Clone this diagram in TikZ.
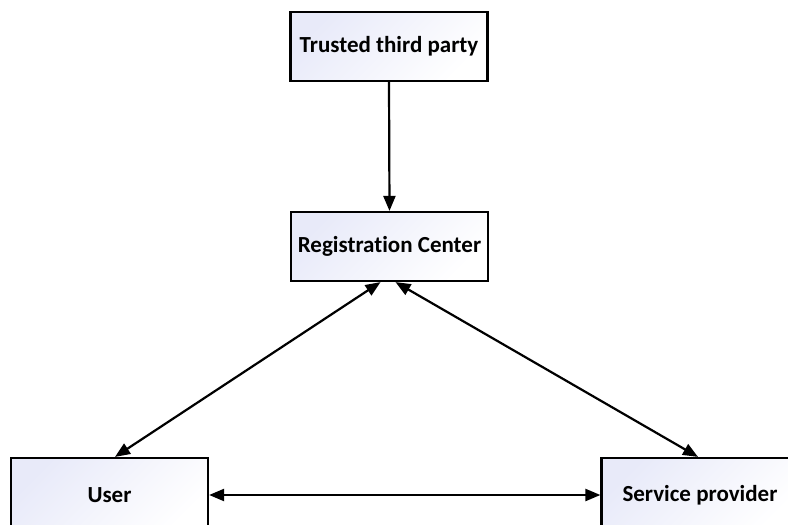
\documentclass[tikz,border=0pt]{standalone}
\usepackage{fontspec}
\setmainfont{Carlito}[Ligatures=NoCommon]
\usetikzlibrary{arrows.meta}
\begin{document}
\begin{tikzpicture}[x=1pt,y=-1pt,
  box/.style={draw=black,line width=2.2pt,top color={rgb,255:red,232;green,234;blue,249},bottom color=white,shading angle=45,
    minimum width=197pt,minimum height=69pt,inner sep=0pt,font=\fontsize{23}{26}\selectfont\bfseries},
  conn/.style={line width=2.2pt,{Triangle[length=15pt,width=12pt]}-{Triangle[length=15pt,width=12pt]}},
  oneway/.style={line width=2.2pt,-{Triangle[length=15pt,width=12pt]}}]
\useasboundingbox (0,0) rectangle (788,525);
\clip (0,0) rectangle (788,525);
\node[box] (ttp) at (389,46.5) {Trusted third party};
\node[box] (rc) at (389.5,246.5) {Registration Center};
\node[box,minimum height=74pt] (user) at (109.5,495) {User};
\node[box,minimum height=74pt] (sp) at (700,495) {Service provider};
\draw[oneway] (ttp.south) -- (rc.north);
\draw[conn] ([xshift=5.5pt]user.north) -- ([xshift=-9pt]rc.south);
\draw[conn] ([xshift=-2pt]sp.north) -- ([xshift=6pt]rc.south);
\draw[conn] (user.east) -- (sp.west);
\end{tikzpicture}
\end{document}
